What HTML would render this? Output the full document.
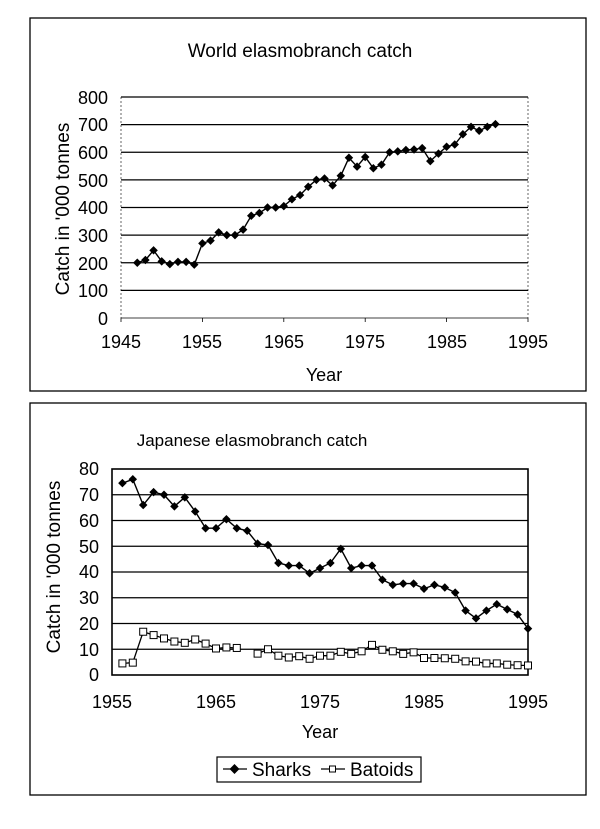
<!DOCTYPE html>
<html><head><meta charset="utf-8"><style>
body{margin:0;background:#fff;width:600px;height:824px;overflow:hidden}
svg text{font-family:"Liberation Sans",sans-serif;fill:#000}
</style></head><body>
<svg id="s" width="600" height="824" viewBox="0 0 600 824">
<rect x="30" y="18" width="556" height="373" fill="none" stroke="#000" stroke-width="1.3"/>
<rect x="30" y="403" width="556" height="392" fill="none" stroke="#000" stroke-width="1.3"/>
<text x="300" y="57" font-size="19" text-anchor="middle">World elasmobranch catch</text>
<text x="252" y="446" font-size="17" text-anchor="middle">Japanese elasmobranch catch</text>
<text transform="translate(69,209) rotate(-90)" font-size="19" text-anchor="middle">Catch in '000 tonnes</text>
<text transform="translate(60,567) rotate(-90)" font-size="19" text-anchor="middle">Catch in '000 tonnes</text>
<text x="324" y="381" font-size="18" text-anchor="middle">Year</text>
<text x="320" y="738" font-size="18" text-anchor="middle">Year</text>
<g font-size="18" text-anchor="end">
<text x="108" y="104">800</text><text x="108" y="131">700</text><text x="108" y="159">600</text><text x="108" y="187">500</text><text x="108" y="214">400</text><text x="108" y="242">300</text><text x="108" y="270">200</text><text x="108" y="297">100</text><text x="108" y="325">0</text>
<text x="99" y="475">80</text><text x="99" y="501">70</text><text x="99" y="527">60</text><text x="99" y="553">50</text><text x="99" y="578">40</text><text x="99" y="604">30</text><text x="99" y="630">20</text><text x="99" y="656">10</text><text x="99" y="681">0</text>
</g>
<g font-size="18" text-anchor="middle">
<text x="121" y="348">1945</text><text x="202" y="348">1955</text><text x="284" y="348">1965</text><text x="365" y="348">1975</text><text x="447" y="348">1985</text><text x="528" y="348">1995</text>
<text x="112" y="708">1955</text><text x="216" y="708">1965</text><text x="320" y="708">1975</text><text x="424" y="708">1985</text><text x="528" y="708">1995</text>
</g>
<rect x="217" y="757" width="204" height="25" fill="none" stroke="#000" stroke-width="1.2"/>
<line x1="223" y1="769" x2="247" y2="769" stroke="#000" stroke-width="1.3"/>
<rect x="231" y="765.5" width="7" height="7" transform="rotate(45 234.5 769)" fill="#000"/>
<text x="252" y="776" font-size="19">Sharks</text>
<line x1="321" y1="769" x2="345" y2="769" stroke="#000" stroke-width="1.3"/>
<rect x="329.5" y="766" width="6" height="6" fill="#fff" stroke="#000"/>
<text x="350" y="776" font-size="19">Batoids</text>
<g id="g"></g>
</svg>
<script>
var g=document.getElementById('g'),ns='http://www.w3.org/2000/svg';
function el(t,a){var e=document.createElementNS(ns,t);for(var k in a)e.setAttribute(k,a[k]);g.appendChild(e);return e;}
var L=121,R=528,T=97,B=318;
for(var i=1;i<=8;i++){var y=B-(B-T)*i/8;el('line',{x1:L,x2:R,y1:y,y2:y,stroke:'#000','stroke-width':1.2});}
el('line',{x1:L,x2:L,y1:T,y2:B,stroke:'#000','stroke-width':0.6,'stroke-dasharray':'2,2'});
el('line',{x1:R,x2:R,y1:T,y2:B,stroke:'#000','stroke-width':0.6,'stroke-dasharray':'2,2'});
el('line',{x1:L,x2:R,y1:B,y2:B,stroke:'#000','stroke-width':0.8});
for(var k=0;k<=5;k++){var x=L+(R-L)*k/5;el('line',{x1:x,x2:x,y1:B,y2:B+4,stroke:'#000','stroke-width':0.8});}
var w=[200,210,245,205,195,203,203,193,270,280,310,300,300,320,370,380,400,400,405,430,445,475,500,505,480,515,580,548,583,542,555,600,603,608,610,615,568,595,620,628,665,692,678,692,702];
var pts=w.map(function(v,i){return [L+(1947+i-1945)*(R-L)/50,B-v*(B-T)/800];});
el('polyline',{points:pts.map(function(p){return p.join(',')}).join(' '),fill:'none',stroke:'#000','stroke-width':1.4});
pts.forEach(function(p){el('rect',{x:p[0]-3,y:p[1]-3,width:6,height:6,transform:'rotate(45 '+p[0]+' '+p[1]+')',fill:'#000'});});
L=112;R=528;T=469;B=675;
el('rect',{x:L,y:T,width:R-L,height:B-T,fill:'none',stroke:'#000','stroke-width':1.6});
for(i=1;i<8;i++){y=B-(B-T)*i/8;el('line',{x1:L,x2:R,y1:y,y2:y,stroke:'#000','stroke-width':1.2});}
var s=[74.5,76,66,71,70,65.5,69,63.5,57,57,60.5,57,56,51,50.5,43.5,42.5,42.5,39.5,41.5,43.5,49,41.5,42.5,42.5,37,35,35.5,35.5,33.5,35,34,32,25,22,25,27.5,25.5,23.5,18];
pts=s.map(function(v,i){return [L+(i+1)*(R-L)/40,B-v*(B-T)/80];});
el('polyline',{points:pts.map(function(p){return p.join(',')}).join(' '),fill:'none',stroke:'#000','stroke-width':1.4});
pts.forEach(function(p){el('rect',{x:p[0]-3,y:p[1]-3,width:6,height:6,transform:'rotate(45 '+p[0]+' '+p[1]+')',fill:'#000'});});
var b=[4.5,4.8,16.8,15.5,14.2,13,12.5,13.8,12.2,10.3,10.7,10.5,null,8.3,10,7.5,6.8,7.3,6.3,7.5,7.5,9,8.2,9.2,11.7,9.8,9.2,8.2,8.8,6.6,6.6,6.5,6.3,5.3,5.2,4.5,4.5,4,3.8,3.7];
var seg=[],segs=[seg],bp=[];
b.forEach(function(v,i){if(v===null){seg=[];segs.push(seg);return;}var p=[L+(i+1)*(R-L)/40,B-v*(B-T)/80];seg.push(p);bp.push(p);});
segs.forEach(function(sg){el('polyline',{points:sg.map(function(p){return p.join(',')}).join(' '),fill:'none',stroke:'#000','stroke-width':1.3});});
bp.forEach(function(p){el('rect',{x:p[0]-3.5,y:p[1]-3.5,width:7,height:7,fill:'#fff',stroke:'#000','stroke-width':1});});
</script>
</body></html>
